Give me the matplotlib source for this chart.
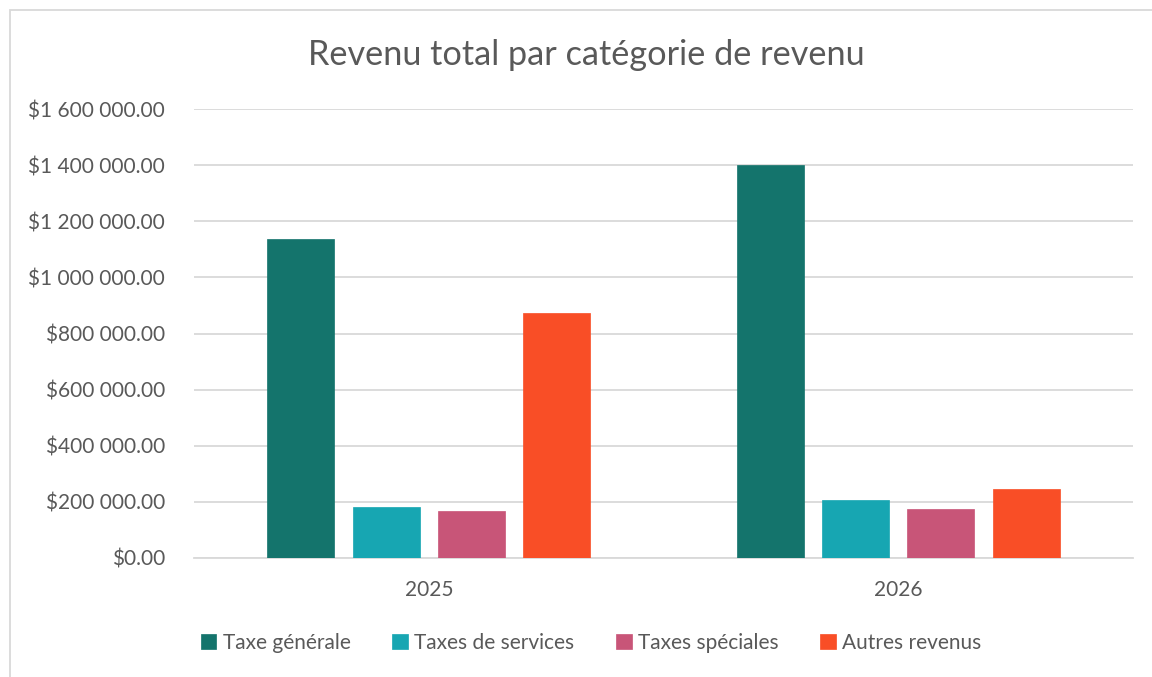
import matplotlib
matplotlib.use("Agg")
import matplotlib.pyplot as plt
from matplotlib.patches import Rectangle
from matplotlib.ticker import FuncFormatter
import numpy as np

plt.rcParams['font.family'] = ['Lato', 'DejaVu Sans']

years = ["2025", "2026"]
series_names = ["Taxe générale", "Taxes de services", "Taxes spéciales", "Autres revenus"]
taxe_generale = [1138000, 1400000]
taxes_services = [181000, 208000]
taxes_speciales = [168000, 176000]
autres_revenus = [874000, 246000]
colors = ["#14746C", "#17A6B2", "#C85578", "#F94E26"]
yticks = [0, 200000, 400000, 600000, 800000, 1000000, 1200000, 1400000, 1600000]

W, H = 1152, 677
fig = plt.figure(figsize=(W/100, H/100), dpi=100)
fig.patch.set_facecolor("white")
ax = fig.add_axes([194/W, 1-558/H, (1133-194)/W, (558-109)/H])

x = np.arange(len(years))
step = 0.1817
width = 0.1427
data = [taxe_generale, taxes_services, taxes_speciales, autres_revenus]
for i, (vals, name, c) in enumerate(zip(data, series_names, colors)):
    ax.bar(x + (i - 1.5) * step, vals, width, color=c, label=name, zorder=3,
           edgecolor=c, linewidth=0.5)

ax.set_xlim(-0.5, 1.5)
ax.set_ylim(0, 1600000)
ax.set_yticks(yticks)

def fmt(v, pos):
    s = f"{v:,.2f}".replace(",", " ")
    return "$" + s
ax.yaxis.set_major_formatter(FuncFormatter(fmt))
ax.set_xticks(x)
ax.set_xticklabels(years)
ax.grid(axis='y', color="#D9D9D9", linewidth=1.3, zorder=0)
for s in ["top", "right", "left"]:
    ax.spines[s].set_visible(False)
ax.spines["bottom"].set_color("#D9D9D9")
ax.spines["bottom"].set_linewidth(1.3)
ax.tick_params(axis='both', length=0, labelsize=15, labelcolor="#595959")
ax.tick_params(axis='y', pad=21)
ax.tick_params(axis='x', pad=16)

fig.text(586/W, 1-55/H, "Revenu total par catégorie de revenu", ha='center', va='center',
         fontsize=24.7, color="#595959")

leg = fig.legend(loc='center', bbox_to_anchor=(591/W, 1-643/H), ncol=4, frameon=False,
                 fontsize=15, labelcolor="#595959", handlelength=0.75, handleheight=0.75,
                 handletextpad=0.3, columnspacing=2.0)

fig.patches.append(Rectangle((10/W, -0.1), 1.2, 1 - 10/H + 0.1, transform=fig.transFigure,
                             fill=False, edgecolor="#D9D9D9", linewidth=1.3))

fig.savefig("out.png", dpi=100, facecolor="white")
